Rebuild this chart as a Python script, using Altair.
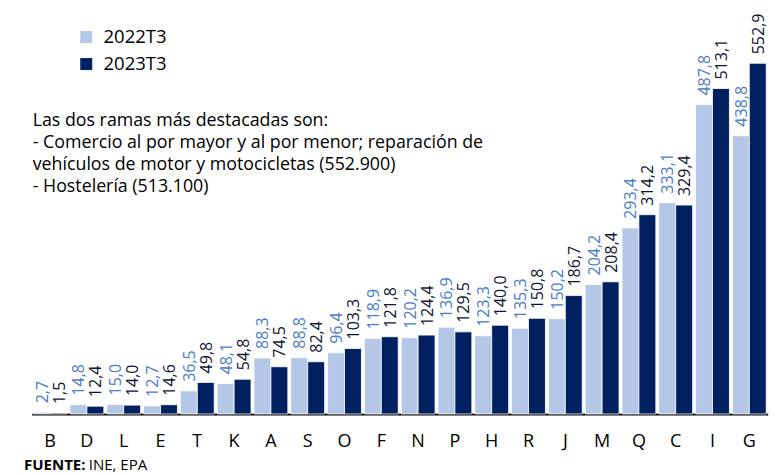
import altair as alt
import pandas as pd

categories = ["B", "D", "L", "E", "T", "K", "A", "S", "O", "F",
              "N", "P", "H", "R", "J", "M", "Q", "C", "I", "G"]
series = ["2022T3", "2023T3"]
v2022 = [2.7, 14.8, 15.0, 12.7, 36.5, 48.1, 88.3, 88.8, 96.4, 118.9,
         120.2, 136.9, 123.3, 135.3, 150.2, 204.2, 293.4, 333.1, 487.8, 438.8]
v2023 = [1.5, 12.4, 14.0, 14.6, 49.8, 54.8, 74.5, 82.4, 103.3, 121.8,
         124.4, 129.5, 140.0, 150.8, 186.7, 208.4, 314.2, 329.4, 513.1, 552.9]
note_lines = [
    "Las dos ramas más destacadas son:",
    "- Comercio al por mayor y al por menor; reparación de",
    "vehículos de motor y motocicletas (552.900)",
    "- Hostelería (513.100)",
]
source_bold = "FUENTE:"
source_text = "INE, EPA"

rows = []
for c, a, b in zip(categories, v2022, v2023):
    rows.append({"cat": c, "serie": series[0], "v": a})
    rows.append({"cat": c, "serie": series[1], "v": b})
df = pd.DataFrame(rows)

FONT = "Open Sans"
W, H = 736, 380.6

xscale = alt.Scale(paddingInner=0.08, paddingOuter=0.04)
xaxis = alt.Axis(labelAngle=0, labelFontSize=18, labelColor="#000000",
                 labelFont=FONT, ticks=False, domainColor="#000000",
                 domainWidth=2, labelPadding=18, grid=False)
yscale = alt.Scale(domain=[0, 600], nice=False)

base = alt.Chart(df)

bars = base.mark_bar(stroke="white", strokeWidth=0.8).encode(
    x=alt.X("cat:N", sort=categories, title=None, scale=xscale, axis=xaxis),
    xOffset=alt.XOffset("serie:N", sort=series, scale=alt.Scale(paddingInner=0)),
    y=alt.Y("v:Q", scale=yscale, axis=None),
    color=alt.Color("serie:N", sort=series,
                    scale=alt.Scale(domain=series, range=["#B4C7E7", "#002060"]),
                    legend=alt.Legend(title=None, orient="none", legendX=45.3, legendY=-5.6,
                                      symbolType="square", symbolSize=144,
                                      symbolStrokeWidth=0, labelFontSize=18.5,
                                      labelFont=FONT, labelColor="#000000",
                                      labelOffset=8, rowPadding=8, padding=0)),
)

labels = base.transform_calculate(
    lab="replace(format(datum.v, '.1f'), '.', ',')",
    lc="datum.serie == '2022T3' ? '#4a7cc9' : '#0e1530'",
).mark_text(angle=270, align="left", baseline="middle", dx=9, dy=1,
            fontSize=16, font=FONT).encode(
    x=alt.X("cat:N", sort=categories, title=None, scale=xscale, axis=xaxis),
    xOffset=alt.XOffset("serie:N", sort=series),
    y=alt.Y("v:Q", scale=yscale, axis=None),
    text="lab:N",
    color=alt.Color("lc:N", scale=None),
)

note = alt.Chart(pd.DataFrame({"t": [0]})).mark_text(
    align="left", baseline="alphabetic", fontSize=17.8, font=FONT,
    color="#000000", lineHeight=22, text=note_lines,
).encode(x=alt.value(1), y=alt.value(92.3))

src1 = alt.Chart(pd.DataFrame({"t": [source_bold]})).mark_text(
    align="left", baseline="alphabetic", fontSize=15, font=FONT,
    fontWeight="bold", color="#000000",
).encode(text="t:N", x=alt.value(-7.7), y=alt.value(437))

src2 = alt.Chart(pd.DataFrame({"t": [source_text]})).mark_text(
    align="left", baseline="alphabetic", fontSize=15, font=FONT,
    color="#000000",
).encode(text="t:N", x=alt.value(57), y=alt.value(437))

chart = alt.layer(bars, labels, note, src1, src2).properties(
    width=W, height=H,
    autosize=alt.AutoSizeParams(type="none"),
    padding={"left": 23.7, "top": 25.4, "right": 2.3, "bottom": 60},
).configure(font=FONT).configure_view(stroke=None)

chart.save("out.html", embed_options={"renderer": "svg", "actions": False})
